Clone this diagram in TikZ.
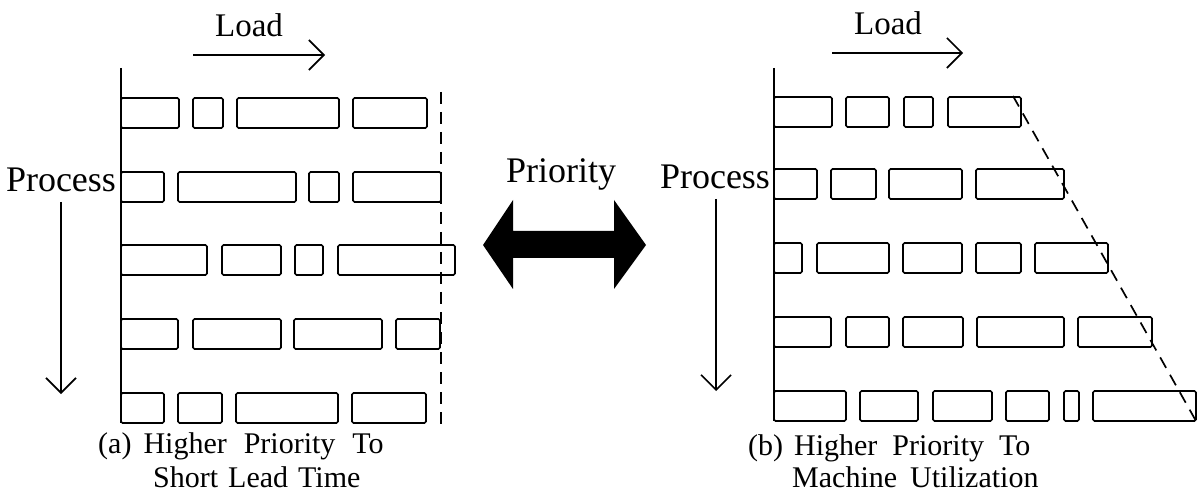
\documentclass[tikz,border=0pt]{standalone}
\usepackage{fontspec}
\setmainfont{Liberation Serif}
\usetikzlibrary{arrows.meta}
\begin{document}
\begin{tikzpicture}[x=1pt,y=-1pt,
  job/.style={draw, line width=1.7pt, rounded corners=1.5pt},
  axisline/.style={line width=1.7pt},
  lbl/.style={font=\fontsize{33}{36}\selectfont, anchor=base, inner sep=0pt},
  biglbl/.style={lbl, font=\fontsize{36}{40}\selectfont},
  captext/.style={font=\fontsize{30}{34}\selectfont, anchor=base west, inner sep=0pt},
  flow/.style={line width=1.6pt, -{Straight Barb[length=15pt, width=30pt, line width=1.6pt]}},
  guide/.style={line width=1.7pt, dash pattern=on 12pt off 8pt}]
\useasboundingbox (0,0) rectangle (1198,502);

% ---------- left chart ----------
\coordinate (la0) at (121,68);
\coordinate (la1) at (121,423);
\draw[axisline] (la0) -- (la1);
\foreach \t/\bs in {98/{121/179,193/223,237/339,353/427},
                    172/{121/164,178/296,309/339,353/441},
                    245/{121/207,222/281,295/323,338/455},
                    319/{121/178,193/281,294/382,396/440},
                    393/{121/164,178/222,236/338,352/426}}{
  \foreach \a/\b in \bs { \draw[job] (\a,\t) rectangle (\b,\t+30); }
}
\coordinate (ld0) at (441,92);
\coordinate (ld1) at (441,426);
\draw[guide] (ld0) -- (ld1);

\node[lbl] (loadL) at (249,37) {Load};
\coordinate (lload0) at (193,55);
\coordinate (lload1) at (325,55);
\draw[flow] (lload0) -- (lload1);

\node[biglbl] (procL) at (61,192) {Process};
\coordinate (lproc0) at (61,202);
\coordinate (lproc1) at (61,394);
\draw[flow] (lproc0) -- (lproc1);

% ---------- right chart ----------
\coordinate (ra0) at (774,68);
\coordinate (ra1) at (774,421);
\draw[axisline] (ra0) -- (ra1);
\foreach \t/\bs in {97/{774/832,846/889,904/933,948/1021},
                    169/{774/817,831/876,889/962,976/1064},
                    243/{774/802,817/889,903/962,976/1021,1035/1108},
                    317/{774/831,846/889,903/963,977/1064,1078/1152},
                    391/{774/846,860/918,933/992,1006/1049,1064/1079,1093/1196}}{
  \foreach \a/\b in \bs { \draw[job] (\a,\t) rectangle (\b,\t+30); }
}
\coordinate (rd0) at (1013,96);
\coordinate (rd1) at (1196,421);
\draw[guide] (rd0) -- (rd1);

\node[lbl] (loadR) at (888,35) {Load};
\coordinate (rload0) at (832,53);
\coordinate (rload1) at (963,53);
\draw[flow] (rload0) -- (rload1);

\node[biglbl] (procR) at (715,189) {Process};
\coordinate (rproc0) at (716,199);
\coordinate (rproc1) at (716,391);
\draw[flow] (rproc0) -- (rproc1);

% ---------- priority double arrow ----------
\node[biglbl] (prio) at (561,183) {Priority};
\fill (483,245) -- (513,200) -- (513,231) -- (614,231) -- (614,200)
      -- (646,245) -- (614,289) -- (614,258) -- (513,258) -- (513,289) -- cycle;

% ---------- captions ----------
\node[captext] (capA1) at (98,453) {(a)\hspace{12pt}Higher\hspace{17pt}Priority\hspace{17pt}To};
\node[captext] (capA2) at (153,487) {Short\hspace{10pt}Lead\hspace{10pt}Time};
\node[captext] (capB1) at (748,455) {(b)\hspace{11pt}Higher\hspace{15pt}Priority\hspace{15pt}To};
\node[captext] (capB2) at (792,487) {Machine\hspace{13pt}Utilization};
\end{tikzpicture}
\end{document}
